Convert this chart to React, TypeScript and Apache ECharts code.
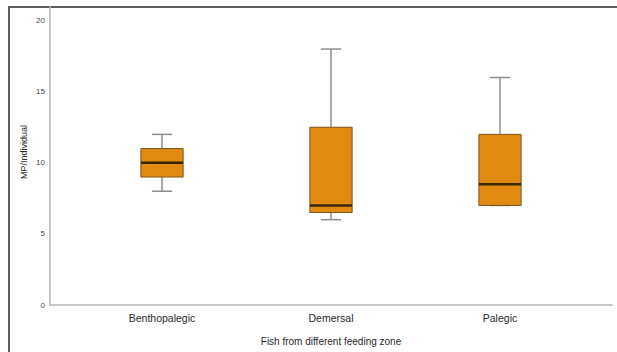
import React, { useEffect, useRef } from "react";
import * as echarts from "echarts";

const categories = ["Benthopalegic", "Demersal", "Palegic"];
const whiskerLow = [8, 6, 7];
const quartile1 = [9, 6.5, 7];
const medians = [10, 7, 8.5];
const quartile3 = [11, 12.5, 12];
const whiskerHigh = [12, 18, 16];
const yTicks = [0, 5, 10, 15, 20];
const xTitle = "Fish from different feeding zone";
const yTitle = "MP/Individual";

export default function App() {
  const ref = useRef<HTMLDivElement>(null);
  useEffect(() => {
    if (!ref.current) return;
    const chart = echarts.init(ref.current, undefined, { renderer: "svg" });
    const data = categories.map((_, i) => [
      i,
      whiskerLow[i],
      quartile1[i],
      medians[i],
      quartile3[i],
      whiskerHigh[i],
    ]);
    const font = "'Liberation Sans', Arial, sans-serif";
    chart.setOption({
      animation: false,
      backgroundColor: "#ffffff",
      grid: [
        { left: 50, right: 5, top: 6.4, bottom: 47 },
        { left: 77.5, right: 32.5, top: 6.4, bottom: 47 },
      ],
      xAxis: [
        {
          gridIndex: 0,
          type: "value",
          min: 0,
          max: 1,
          axisLine: { show: true, lineStyle: { color: "#b4b4b4", width: 1.5 } },
          axisTick: { show: false },
          axisLabel: { show: false },
          splitLine: { show: false },
        },
        {
          gridIndex: 1,
          type: "category",
          data: categories,
          axisLine: { show: false },
          axisTick: { show: false },
          axisLabel: {
            show: true,
            color: "#2a2a2a",
            fontSize: 10.5,
            fontFamily: font,
            margin: 7,
          },
        },
      ],
      yAxis: [
        {
          gridIndex: 0,
          type: "value",
          min: 0,
          max: 21,
          interval: 5,
          axisLine: { show: true, lineStyle: { color: "#b4b4b4", width: 1.5 } },
          axisTick: { show: false },
          axisLabel: {
            color: "#444",
            fontSize: 8,
            fontFamily: font,
            margin: 5,
            formatter: (v: number) => (yTicks.includes(v) ? String(v) : ""),
          },
          splitLine: { show: false },
        },
        {
          gridIndex: 1,
          type: "value",
          min: 0,
          max: 21,
          show: false,
        },
      ],
      series: [
        {
          type: "custom",
          xAxisIndex: 1,
          yAxisIndex: 1,
          data,
          encode: { x: 0, y: [1, 2, 3, 4, 5] },
          renderItem: (params: any, api: any) => {
            const i = api.value(0);
            const lo = api.coord([i, api.value(1)]);
            const q1 = api.coord([i, api.value(2)]);
            const med = api.coord([i, api.value(3)]);
            const q3 = api.coord([i, api.value(4)]);
            const hi = api.coord([i, api.value(5)]);
            const band = api.size([1, 0])[0];
            const bw = band * 0.25;
            const cw = band * 0.12;
            const x = lo[0];
            const wStyle = { stroke: "#8e8e8e", lineWidth: 1.5 };
            return {
              type: "group",
              children: [
                { type: "line", shape: { x1: x, y1: q3[1], x2: x, y2: hi[1] }, style: wStyle },
                { type: "line", shape: { x1: x - cw / 2, y1: hi[1], x2: x + cw / 2, y2: hi[1] }, style: wStyle },
                { type: "line", shape: { x1: x, y1: q1[1], x2: x, y2: lo[1] }, style: wStyle },
                { type: "line", shape: { x1: x - cw / 2, y1: lo[1], x2: x + cw / 2, y2: lo[1] }, style: wStyle },
                {
                  type: "rect",
                  shape: { x: x - bw / 2, y: q3[1], width: bw, height: q1[1] - q3[1] },
                  style: { fill: "#e08a12", stroke: "#7a5520", lineWidth: 1 },
                },
                {
                  type: "line",
                  shape: { x1: x - bw / 2, y1: med[1], x2: x + bw / 2, y2: med[1] },
                  style: { stroke: "#3a2505", lineWidth: 2.5 },
                },
              ],
            };
          },
        },
      ],
      graphic: [
        {
          type: "rect",
          shape: { x: 9, y: 7, width: 700, height: 400 },
          style: { fill: "none", stroke: "#5f5f5f", lineWidth: 2 },
          silent: true,
        },
        {
          type: "text",
          x: 331,
          y: 341,
          style: {
            text: xTitle,
            fill: "#2a2a2a",
            fontSize: 10,
            fontFamily: font,
            align: "center",
            verticalAlign: "middle",
          },
        },
        {
          type: "text",
          x: 24,
          y: 152,
          rotation: Math.PI / 2,
          style: {
            text: yTitle,
            fill: "#2a2a2a",
            fontSize: 9,
            fontFamily: font,
            align: "center",
            verticalAlign: "middle",
          },
        },
      ],
    });
    return () => chart.dispose();
  }, []);
  return (
    <div
      ref={ref}
      style={{ position: "fixed", left: 0, top: 0, width: 617, height: 352 }}
    />
  );
}
